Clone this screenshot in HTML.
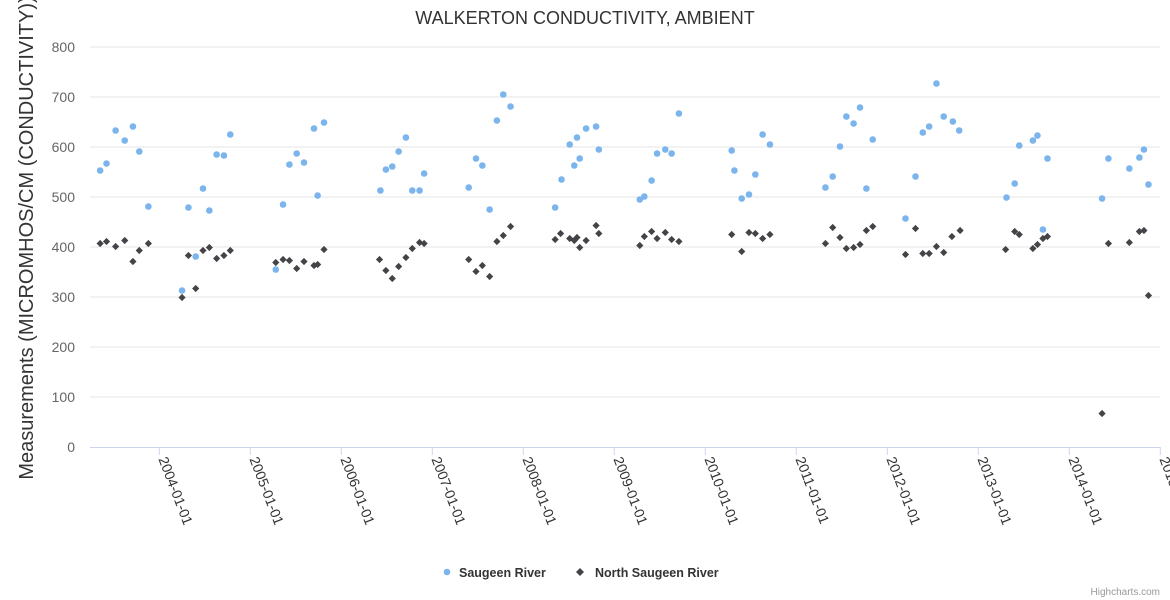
<!DOCTYPE html>
<html><head><meta charset="utf-8"><style>
html,body{margin:0;padding:0;background:#fff;}
svg{display:block;font-family:"Liberation Sans","DejaVu Sans",sans-serif;}
</style></head><body>
<svg id="chart" width="1170" height="600">
<text x="585" y="24" text-anchor="middle" font-size="18" fill="#333">WALKERTON CONDUCTIVITY, AMBIENT</text>
<text transform="translate(33,238) rotate(-90)" text-anchor="middle" font-size="20" fill="#333">Measurements (MICROMHOS/CM (CONDUCTIVITY))</text>
<g id="grid"></g><g id="xaxis"></g><g id="s1"></g><g id="s2"></g>
<g>
<g><circle cx="447" cy="572" r="3.3" fill="#7cb5ec"/><text x="459" y="577" font-size="12.5" font-weight="bold" fill="#333">Saugeen River</text></g>
<g><path d="M580 568 L584 572 L580 576 L576 572 Z" fill="#434348"/><text x="595" y="577" font-size="12.5" font-weight="bold" fill="#333">North Saugeen River</text></g>
</g>
<text x="1160" y="595" text-anchor="end" font-size="10" fill="#999">Highcharts.com</text>
</svg>
<script>
const yTicks=[0,100,200,300,400,500,600,700,800];
const xTickYears=[2004,2005,2006,2007,2008,2009,2010,2011,2012,2013,2014,2015];
const xTickLabels=["2004-01-01","2005-01-01","2006-01-01","2007-01-01","2008-01-01","2009-01-01","2010-01-01","2011-01-01","2012-01-01","2013-01-01","2014-01-01","2015-01-01"];
const saugeenYears=[2003.35,2003.42,2003.52,2003.62,2003.71,2003.78,2003.88,2004.25,2004.32,2004.40,2004.48,2004.55,2004.63,2004.71,2004.78,2005.28,2005.36,2005.43,2005.51,2005.59,2005.70,2005.74,2005.81,2006.43,2006.49,2006.56,2006.63,2006.71,2006.78,2006.86,2006.91,2007.40,2007.48,2007.55,2007.63,2007.71,2007.78,2007.86,2008.35,2008.42,2008.51,2008.56,2008.59,2008.62,2008.69,2008.80,2008.83,2009.28,2009.33,2009.41,2009.47,2009.56,2009.63,2009.71,2010.29,2010.32,2010.40,2010.48,2010.55,2010.63,2010.71,2011.32,2011.40,2011.48,2011.55,2011.63,2011.70,2011.77,2011.84,2012.20,2012.31,2012.39,2012.46,2012.54,2012.62,2012.72,2012.79,2013.31,2013.40,2013.45,2013.60,2013.65,2013.71,2013.76,2014.36,2014.43,2014.66,2014.77,2014.82,2014.87];
const saugeenValues=[553,567,633,613,641,591,481,313,479,381,517,473,585,583,625,355,485,565,587,569,637,503,649,513,555,561,591,619,513,513,547,519,577,563,475,653,705,681,479,535,605,563,619,577,637,641,595,495,501,533,587,595,587,667,593,553,497,505,545,625,605,519,541,601,661,647,679,517,615,457,541,629,641,727,661,651,633,499,527,603,613,623,435,577,497,577,557,579,595,525];
const northYears=[2003.35,2003.42,2003.52,2003.62,2003.71,2003.78,2003.88,2004.25,2004.32,2004.40,2004.48,2004.55,2004.63,2004.71,2004.78,2005.28,2005.36,2005.43,2005.51,2005.59,2005.70,2005.74,2005.81,2006.42,2006.49,2006.56,2006.63,2006.71,2006.78,2006.86,2006.91,2007.40,2007.48,2007.55,2007.63,2007.71,2007.78,2007.86,2008.35,2008.41,2008.51,2008.56,2008.59,2008.62,2008.69,2008.80,2008.83,2009.28,2009.33,2009.41,2009.47,2009.56,2009.63,2009.71,2010.29,2010.40,2010.48,2010.55,2010.63,2010.71,2011.32,2011.40,2011.48,2011.55,2011.63,2011.70,2011.77,2011.84,2012.20,2012.31,2012.39,2012.46,2012.54,2012.62,2012.71,2012.80,2013.30,2013.40,2013.45,2013.60,2013.65,2013.71,2013.76,2014.36,2014.43,2014.66,2014.77,2014.82,2014.87];
const northValues=[407,411,401,413,371,393,407,299,383,317,393,399,377,383,393,369,375,373,357,371,363,365,395,375,353,337,361,379,397,409,407,375,351,363,341,411,423,441,415,427,417,413,419,399,413,443,427,403,421,431,417,429,415,411,425,391,429,427,417,425,407,439,419,397,399,405,433,441,385,437,387,387,401,389,421,433,395,431,425,397,405,417,421,67,407,409,431,433,303];

const NS="http://www.w3.org/2000/svg";
const L=90,R=1160,T=47,B=447;
function xs(yr){return 159.3+(yr-2004)*91;}
function ys(v){return B-(v/800)*(B-T);}
function mk(tag,attrs,parent){const e=document.createElementNS(NS,tag);for(const k in attrs)e.setAttribute(k,attrs[k]);parent.appendChild(e);return e;}
const grid=document.getElementById('grid');
yTicks.forEach(v=>{
  const y=ys(v);
  if(v>0){const ln=mk('line',{x1:L,x2:R,y1:y,y2:y,stroke:'#e6e6e6'},grid);
  
  }
  const t=mk('text',{x:75,y:y+5,'text-anchor':'end','font-size':14,fill:'#666'},grid);
  t.textContent=v;
  
  
});
const xa=document.getElementById('xaxis');
const axl=mk('line',{x1:L,x2:R,y1:B+0.5,y2:B+0.5,stroke:'#ccd6eb'},xa);


xTickYears.forEach((yr,i)=>{
  const x=xs(yr);
  const tk=mk('line',{x1:x,x2:x,y1:B,y2:B+8,stroke:'#ccd6eb'},xa);
  
  
  const t=mk('text',{transform:`translate(${x-1},${B+12}) rotate(69)`,'font-size':14,fill:'#333'},xa);
  t.textContent=xTickLabels[i];
  
  
});
const s1=document.getElementById('s1');
saugeenYears.forEach((yr,i)=>{
  const c=mk('circle',{cx:xs(yr),cy:ys(saugeenValues[i]),r:3.3,fill:'#7cb5ec'},s1);
  
  
});
const s2=document.getElementById('s2');
northYears.forEach((yr,i)=>{
  const x=xs(yr),y=ys(northValues[i]);
  const p=mk('path',{d:`M${x} ${y-3.6}L${x+3.6} ${y}L${x} ${y+3.6}L${x-3.6} ${y}Z`,fill:'#434348'},s2);
  
  
});
</script>
</body></html>
